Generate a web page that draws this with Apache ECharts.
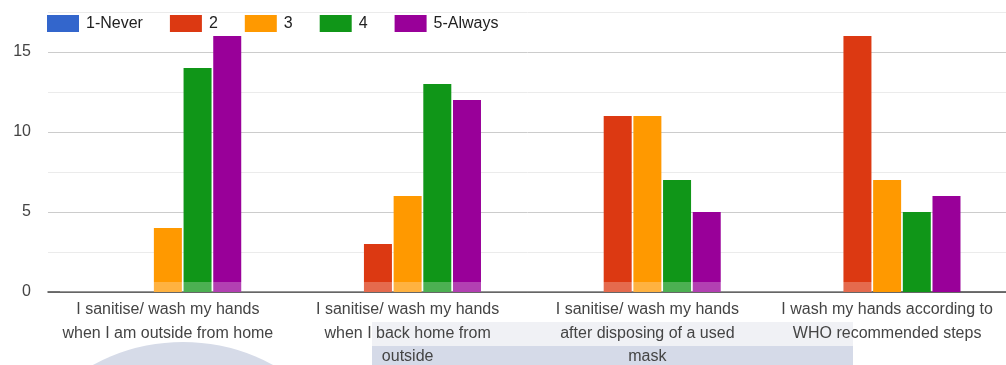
<!DOCTYPE html>
<html>
<head>
<meta charset="utf-8">
<style>
  html, body { margin: 0; padding: 0; background: #fff; }
  #chart { width: 1006px; height: 365px; }
</style>
<script src="https://cdn.jsdelivr.net/npm/echarts@6/dist/echarts.min.js"></script>
</head>
<body>
<div id="chart"></div>
<script>
// Survey: hand hygiene habits, answer counts per frequency level
const categories = [
  'I sanitise/ wash my hands\nwhen I am outside from home',
  'I sanitise/ wash my hands\nwhen I back home from\noutside',
  'I sanitise/ wash my hands\nafter disposing of a used\nmask',
  'I wash my hands according to\nWHO recommended steps'
];
const seriesNames = ['1-Never', '2', '3', '4', '5-Always'];
const never = [0, 0, 0, 0];
const level2 = [0, 3, 11, 16];
const level3 = [4, 6, 11, 7];
const level4 = [14, 13, 7, 5];
const always = [16, 12, 5, 6];
const yTicks = [0, 5, 10, 15];

const colors = ['#3366cc', '#dc3912', '#ff9900', '#109618', '#990099'];
const values = [never, level2, level3, level4, always];

const chart = echarts.init(document.getElementById('chart'), null, { renderer: 'canvas' });

chart.setOption({
  animation: false,
  color: colors,
  textStyle: { fontFamily: '"Liberation Sans", Arial, sans-serif' },
  legend: {
    left: 47,
    top: 15,
    padding: 0,
    itemWidth: 32,
    itemHeight: 17,
    itemGap: 27,
    icon: 'rect',
    textStyle: {
      fontSize: 16,
      color: '#222',
      padding: [0, 0, 0, 2],
      fontFamily: '"Liberation Sans", Arial, sans-serif'
    },
    data: seriesNames
  },
  grid: { left: 48, right: -1, top: 12, bottom: 73, outerBoundsMode: 'none', containLabel: false },
  xAxis: {
    type: 'category',
    data: categories,
    axisTick: { show: false },
    axisLine: { lineStyle: { color: '#444', width: 1.5 } },
    axisLabel: {
      interval: 0,
      fontSize: 16,
      color: '#444',
      lineHeight: 23.5,
      margin: 6,
      fontFamily: '"Liberation Sans", Arial, sans-serif'
    }
  },
  yAxis: {
    type: 'value',
    min: 0,
    max: 17.5,
    interval: 2.5,
    axisLine: { show: false },
    axisTick: { show: false },
    axisLabel: {
      fontSize: 16,
      color: '#444',
      margin: 17,
      fontFamily: '"Liberation Sans", Arial, sans-serif',
      formatter: v => (yTicks.indexOf(v) >= 0 ? String(v) : '')
    },
    splitLine: { lineStyle: { color: ['#cccccc', '#ebebeb'], width: 1 } }
  },
  series: seriesNames.map((name, i) => ({
    name: name,
    type: 'bar',
    data: values[i],
    barWidth: 28,
    barGap: '6%',
    itemStyle: { color: colors[i] }
  })),
  graphic: [
    // faint seal in the lower left
    { type: 'circle', shape: { cx: 183, cy: 530, r: 188 }, style: { fill: '#d6dbe8' }, z: -1, silent: true },
    // pale bands behind the lower labels
    { type: 'rect', shape: { x: 372, y: 322, width: 481, height: 24 }, style: { fill: '#f0f1f5' }, z: -1, silent: true },
    { type: 'rect', shape: { x: 372, y: 346, width: 481, height: 19 }, style: { fill: '#d5dae8' }, z: -1, silent: true },
    // light wash across the bar bases
    { type: 'rect', shape: { x: 60, y: 282, width: 812, height: 10 }, style: { fill: 'rgba(255,255,255,0.25)' }, z: 100, silent: true }
  ]
});
</script>
</body>
</html>
